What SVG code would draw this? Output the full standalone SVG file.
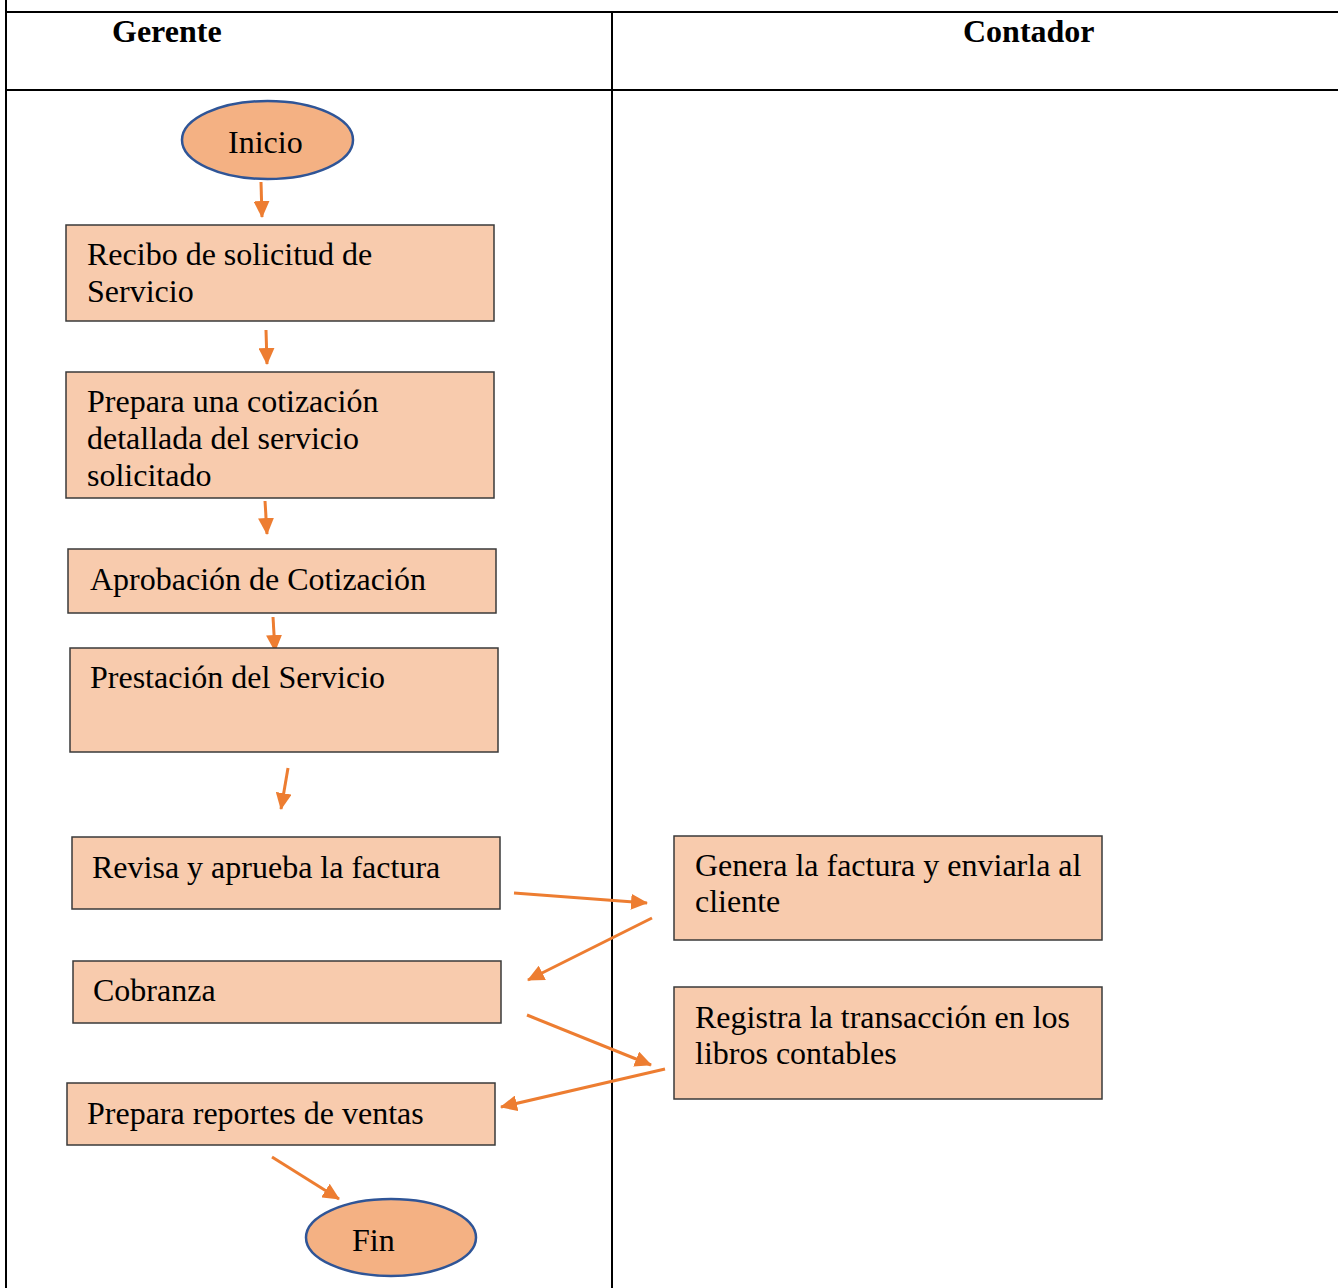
<svg xmlns="http://www.w3.org/2000/svg" width="1338" height="1288" viewBox="0 0 1338 1288">
<style>
.grid{stroke:#000;stroke-width:2;fill:none}
.hdr{font-family:"Liberation Serif",serif;font-weight:bold;font-size:32px;fill:#000}
.t{font-family:"Liberation Serif",serif;font-size:32px;fill:#000}
.box{fill:#F8CBAD;stroke:#3a3a3a;stroke-width:1.5}
.term{fill:#F4B183;stroke:#2F5597;stroke-width:2.5}
.arr{stroke:#ED7D31;stroke-width:3;fill:none;marker-end:url(#ah)}
</style>
<defs>
<marker id="ah" markerUnits="userSpaceOnUse" markerWidth="17" markerHeight="16" refX="16" refY="8" orient="auto">
<path d="M0,0 L17,8 L0,16 z" fill="#ED7D31"/>
</marker>
</defs>
<rect width="1338" height="1288" fill="#fff"/>
<g id="table">
<line class="grid" x1="6" y1="0" x2="6" y2="1288"/>
<line class="grid" x1="6" y1="12" x2="1338" y2="12"/>
<line class="grid" x1="6" y1="90" x2="1338" y2="90"/>
<line class="grid" x1="612" y1="12" x2="612" y2="1288"/>
<text class="hdr" x="112" y="42">Gerente</text>
<text class="hdr" x="963" y="42">Contador</text>
</g>
<g id="connectors">
<line class="arr" x1="261" y1="182" x2="262" y2="217"/>
<line class="arr" x1="266" y1="330" x2="267" y2="364"/>
<line class="arr" x1="265" y1="501" x2="267" y2="534"/>
<line class="arr" x1="273" y1="617" x2="275" y2="651"/>
<line class="arr" x1="288" y1="768" x2="281" y2="809"/>
<line class="arr" x1="514" y1="893" x2="647" y2="903"/>
<line class="arr" x1="652" y1="918" x2="528" y2="980"/>
<line class="arr" x1="527" y1="1015" x2="651" y2="1065"/>
<line class="arr" x1="665" y1="1069" x2="501" y2="1107"/>
<line class="arr" x1="272" y1="1157" x2="339" y2="1199"/>
</g>
<g id="inicio">
<ellipse class="term" cx="267.5" cy="140" rx="85.5" ry="39"/>
<text class="t" x="228" y="153">Inicio</text>
</g>
<g id="recibo">
<rect class="box" x="66" y="225" width="428" height="96"/>
<text class="t" x="87" y="265">Recibo de solicitud de</text>
<text class="t" x="87" y="302">Servicio</text>
</g>
<g id="cotizacion">
<rect class="box" x="66" y="372" width="428" height="126"/>
<text class="t" x="87" y="412">Prepara una cotización</text>
<text class="t" x="87" y="449">detallada del servicio</text>
<text class="t" x="87" y="486">solicitado</text>
</g>
<g id="aprobacion">
<rect class="box" x="68" y="549" width="428" height="64"/>
<text class="t" x="90" y="590">Aprobación de Cotización</text>
</g>
<g id="prestacion">
<rect class="box" x="70" y="648" width="428" height="104"/>
<text class="t" x="90" y="688">Prestación del Servicio</text>
</g>
<g id="revisa">
<rect class="box" x="72" y="837" width="428" height="72"/>
<text class="t" x="92" y="878">Revisa y aprueba la factura</text>
</g>
<g id="cobranza">
<rect class="box" x="73" y="961" width="428" height="62"/>
<text class="t" x="93" y="1001">Cobranza</text>
</g>
<g id="reportes">
<rect class="box" x="67" y="1083" width="428" height="62"/>
<text class="t" x="87" y="1124">Prepara reportes de ventas</text>
</g>
<g id="genera">
<rect class="box" x="674" y="836" width="428" height="104"/>
<text class="t" x="695" y="876">Genera la factura y enviarla al</text>
<text class="t" x="695" y="912">cliente</text>
</g>
<g id="registra">
<rect class="box" x="674" y="987" width="428" height="112"/>
<text class="t" x="695" y="1028">Registra la transacción en los</text>
<text class="t" x="695" y="1064">libros contables</text>
</g>
<g id="fin">
<ellipse class="term" cx="391" cy="1237.5" rx="85" ry="38.5"/>
<text class="t" x="352" y="1251">Fin</text>
</g>
</svg>
